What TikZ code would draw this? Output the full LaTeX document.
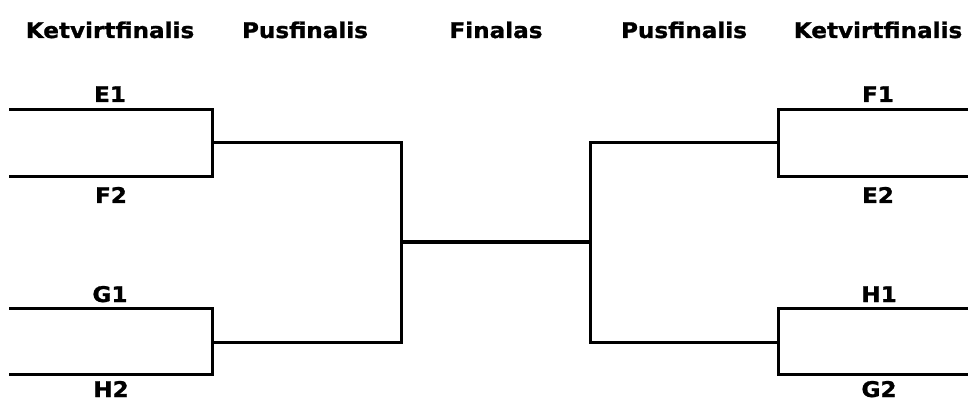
\documentclass[tikz,border=0pt]{standalone}
\usepackage{fontspec}
\setmainfont{DejaVu Sans}
\newfontfamily\lblfont[FakeStretch=1.07,FakeBold=1.2]{DejaVu Sans Bold}
\begin{document}
\begin{tikzpicture}[x=1pt,y=-1pt,
  lbl/.style={font=\lblfont\fontsize{21.6}{25}\selectfont, anchor=base, inner sep=0pt},
  ln/.style={line width=3pt, line cap=rect}]
\useasboundingbox (0,0) rectangle (968,403);
% headers
\node[lbl] (h1) at (110,38) {Ketvirtfinalis};
\node[lbl] (h2) at (305,38) {Pusfinalis};
\node[lbl] (h3) at (496,38) {Finalas};
\node[lbl] (h4) at (684,38) {Pusfinalis};
\node[lbl] (h5) at (878,38) {Ketvirtfinalis};
% labels
\node[lbl] (e1) at (110,102) {E1};
\node[lbl] (f2) at (111,203) {F2};
\node[lbl] (g1) at (110,302) {G1};
\node[lbl] (h2l) at (111,397) {H2};
\node[lbl] (f1) at (878,102) {F1};
\node[lbl] (e2) at (878,203) {E2};
\node[lbl] (h1l) at (879,302) {H1};
\node[lbl] (g2) at (879,397) {G2};
% coordinates
\coordinate (la1) at (10,110);
\coordinate (la2) at (10,177);
\coordinate (lb1) at (10,308);
\coordinate (lb2) at (10,374);
\coordinate (ra1) at (968,110);
\coordinate (ra2) at (968,177);
\coordinate (rb1) at (968,308);
\coordinate (rb2) at (968,374);
\coordinate (lqa) at (212,143);
\coordinate (lqb) at (212,342);
\coordinate (rqa) at (778,143);
\coordinate (rqb) at (778,342);
\coordinate (ls) at (401,242);
\coordinate (rs) at (590,242);
% left
\draw[ln] (la1) -| (lqa) |- (la2);
\draw[ln] (lb1) -| (lqb) |- (lb2);
\draw[ln] (lqa) -| (ls) |- (lqb);
\draw[ln] (ls) -- (rs);
% right
\draw[ln] (ra1) -| (rqa) |- (ra2);
\draw[ln] (rb1) -| (rqb) |- (rb2);
\draw[ln] (rqa) -| (rs) |- (rqb);
\end{tikzpicture}
\end{document}
